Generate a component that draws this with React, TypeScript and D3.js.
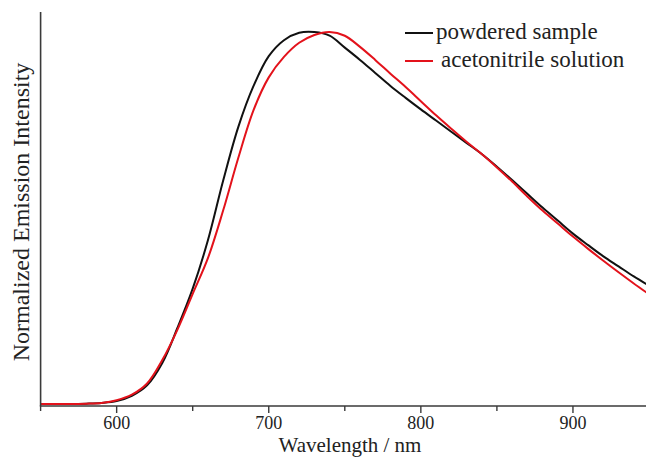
import * as React from 'react';
import * as d3 from 'd3';

const wavelengths = [550, 560, 570, 580, 590, 600, 610, 620, 630, 640, 650, 660, 670, 680, 690, 700, 710, 720, 730, 740, 750, 760, 770, 780, 790, 800, 810, 820, 830, 840, 850, 860, 870, 880, 890, 900, 910, 920, 930, 940, 950];

// powdered sample (black)
const powderI = [0.0, 0.0, 0.0, 0.001, 0.003, 0.008, 0.022, 0.05, 0.11, 0.205, 0.31, 0.44, 0.6, 0.745, 0.855, 0.935, 0.978, 0.998, 1.0, 0.99, 0.958, 0.925, 0.89, 0.855, 0.823, 0.792, 0.762, 0.732, 0.702, 0.672, 0.638, 0.602, 0.565, 0.528, 0.493, 0.458, 0.427, 0.397, 0.37, 0.343, 0.318];

// acetonitrile solution (red)
const solI = [0.0, 0.0, 0.0, 0.001, 0.003, 0.01, 0.025, 0.055, 0.118, 0.2, 0.296, 0.392, 0.52, 0.662, 0.79, 0.878, 0.933, 0.971, 0.992, 1.0, 0.99, 0.96, 0.925, 0.888, 0.852, 0.814, 0.776, 0.74, 0.705, 0.672, 0.636, 0.598, 0.558, 0.52, 0.485, 0.45, 0.417, 0.385, 0.354, 0.324, 0.295];

const seriesNames = ['powdered sample', 'acetonitrile solution'];
const seriesColors = ['#111111', '#e3121b'];
const majorTicks = [600, 700, 800, 900];
const minorTicks = [550, 650, 750, 850];

const FONT = '"Liberation Serif", "Times New Roman", serif';

export default function App() {
  const ref = React.useRef<SVGSVGElement>(null);

  React.useEffect(() => {
    const width = 646;
    const svg = d3.select(ref.current);
    svg.selectAll('*').remove();

    const x = d3.scaleLinear().domain([550, 950]).range([40.6, 649]);
    const y = d3.scaleLinear().domain([0, 1]).range([404, 32]);
    const top = 12;
    const bottom = 406;

    const line = d3.line<[number, number]>()
      .x(d => x(d[0]))
      .y(d => y(d[1]))
      .curve(d3.curveCatmullRom.alpha(0.5));

    const data: [number, number][][] = [
      wavelengths.map((w, i) => [w, powderI[i]]),
      wavelengths.map((w, i) => [w, solI[i]]),
    ];

    [0, 1].forEach(k => {
      svg.append('path')
        .attr('d', line(data[k]))
        .attr('fill', 'none')
        .attr('stroke', seriesColors[k])
        .attr('stroke-width', 2);
    });

    const axisColor = '#3a3a3a';
    // left axis
    svg.append('line')
      .attr('x1', x(550)).attr('x2', x(550))
      .attr('y1', top).attr('y2', bottom)
      .attr('stroke', axisColor).attr('stroke-width', 1.6);
    // bottom axis
    svg.append('line')
      .attr('x1', x(550) - 0.8).attr('x2', width)
      .attr('y1', bottom).attr('y2', bottom)
      .attr('stroke', axisColor).attr('stroke-width', 1.6);

    majorTicks.forEach(t => {
      svg.append('line')
        .attr('x1', x(t)).attr('x2', x(t))
        .attr('y1', bottom).attr('y2', bottom + 7)
        .attr('stroke', axisColor).attr('stroke-width', 1.4);
      svg.append('text')
        .attr('x', x(t)).attr('y', 429)
        .attr('text-anchor', 'middle')
        .style('font', `18px ${FONT}`)
        .attr('fill', '#222')
        .text(String(t));
    });
    minorTicks.forEach(t => {
      svg.append('line')
        .attr('x1', x(t)).attr('x2', x(t))
        .attr('y1', bottom).attr('y2', bottom + 5)
        .attr('stroke', axisColor).attr('stroke-width', 1.4);
    });

    svg.append('text')
      .attr('x', 350).attr('y', 452)
      .attr('text-anchor', 'middle')
      .style('font', `21px ${FONT}`)
      .attr('fill', '#222')
      .text('Wavelength / nm');

    svg.append('text')
      .attr('transform', 'translate(29,212) rotate(-90)')
      .attr('text-anchor', 'middle')
      .style('font', `24px ${FONT}`)
      .attr('fill', '#222')
      .text('Normalized Emission Intensity');

    // legend
    const legendY = [33, 61];
    const textX = [436, 441];
    seriesNames.forEach((name, i) => {
      svg.append('line')
        .attr('x1', 405).attr('x2', 433)
        .attr('y1', legendY[i]).attr('y2', legendY[i])
        .attr('stroke', seriesColors[i]).attr('stroke-width', 2);
      svg.append('text')
        .attr('x', textX[i]).attr('y', legendY[i] + 6)
        .style('font', `23px ${FONT}`)
        .attr('fill', '#222')
        .text(name);
    });
  }, []);

  return (
    <svg ref={ref} width={646} height={457}
      style={{ position: 'fixed', left: 0, top: 0, background: '#fff' }} />
  );
}
